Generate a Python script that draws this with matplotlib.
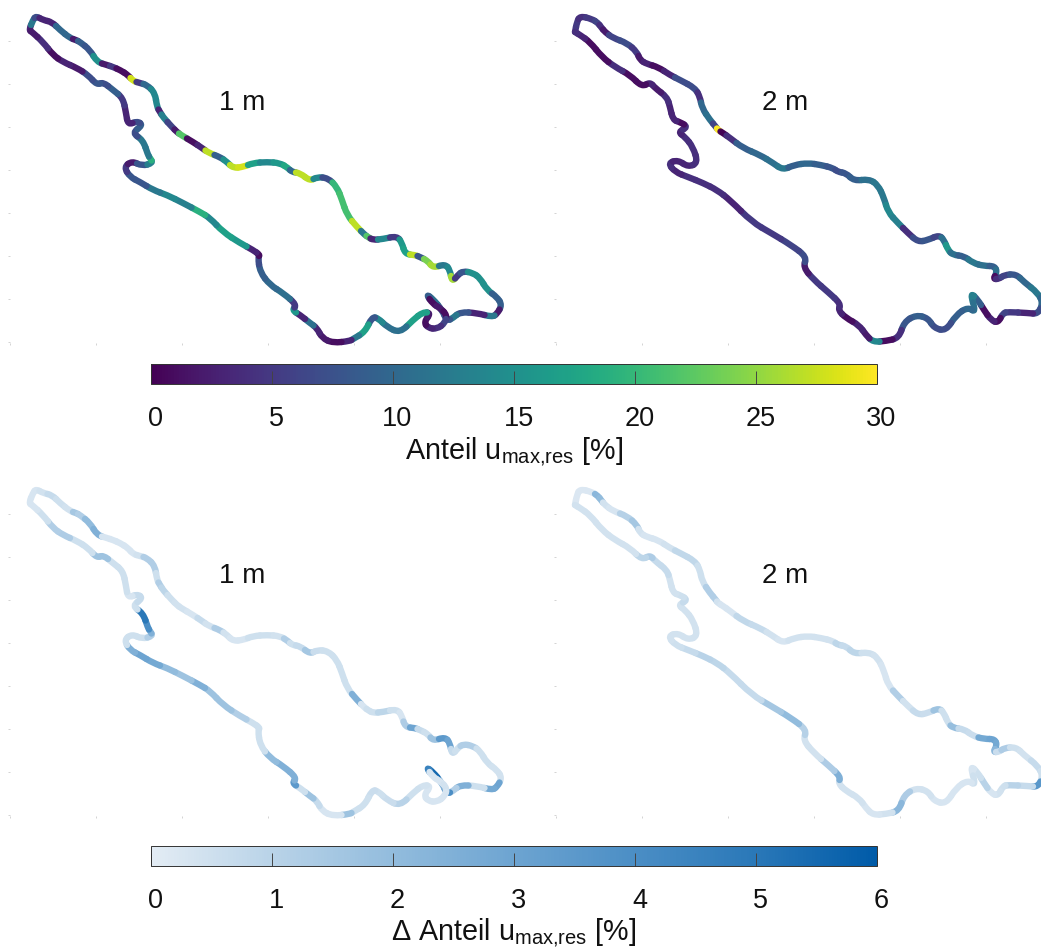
import numpy as np
import matplotlib
matplotlib.use('Agg')
import matplotlib.pyplot as plt
from matplotlib.collections import PathCollection
from matplotlib.colors import LinearSegmentedColormap, Normalize
from matplotlib.path import Path
from matplotlib.transforms import ScaledTranslation

plt.rcParams['font.family'] = ['Liberation Sans', 'DejaVu Sans']
plt.rcParams['mathtext.fontset'] = 'custom'
plt.rcParams['mathtext.rm'] = 'Liberation Sans'

# shoreline at 1 m depth, map units
shore1_x = [29, 33, 36, 43, 52, 60, 70, 76,
            80, 90, 97, 107, 113, 120, 128, 133,
            140, 147, 155, 157, 160, 163, 172, 177,
            181, 193, 202, 209, 220, 227, 233, 243,
            253, 267, 280, 288, 292, 300, 310, 317,
            328, 337, 342, 347, 357, 365, 368, 373,
            383, 397, 402, 405, 415, 420, 428, 433,
            445, 450, 452, 458, 463, 473, 480, 487,
            497, 502, 497, 492, 477, 460, 453, 447,
            442, 433, 426, 433, 440, 447, 445, 437,
            428, 424, 431, 423, 413, 400, 387, 378,
            372, 365, 353, 350, 333, 322, 317, 310,
            300, 292, 297, 283, 270, 260, 258, 260,
            253, 240, 223, 210, 200, 183, 167, 153,
            140, 130, 124, 132, 142, 153, 150, 148,
            143, 132, 143, 137, 128, 126, 123, 113,
            103, 97, 88, 77, 63, 53, 43, 32]
shore1_y = [30, 20, 16, 20, 22, 30, 38, 40,
            42, 50, 62, 65, 67, 70, 75, 81,
            83, 85, 93, 107, 112, 117, 127, 132,
            135, 142, 148, 153, 157, 162, 168, 167,
            163, 162, 163, 168, 172, 173, 181, 177,
            178, 187, 200, 215, 227, 235, 237, 240,
            239, 236, 243, 254, 255, 257, 261, 268,
            264, 270, 282, 275, 271, 273, 278, 290,
            297, 305, 314, 317, 313, 312, 318, 321,
            310, 299, 294, 304, 308, 315, 323, 329,
            328, 322, 313, 312, 320, 333, 327, 318,
            317, 332, 339, 341, 343, 338, 328, 323,
            315, 310, 305, 293, 285, 272, 257, 255,
            250, 243, 232, 218, 212, 203, 195, 190,
            182, 177, 167, 161, 166, 163, 158, 155,
            140, 133, 125, 121, 125, 113, 98, 90,
            82, 85, 75, 68, 62, 55, 42, 32]
anteil_1m = [3, 12, 7, 3, 3, 10, 10, 2,
             9, 8, 15, 2, 5, 1, 1, 28,
             5, 10, 14, 14, 3, 13, 6, 2,
             22, 1, 3, 27, 9, 15, 27, 28,
             17, 14, 16, 18, 10, 27, 27, 14,
             7, 20, 21, 21, 27, 12, 22, 3,
             14, 5, 16, 17, 27, 8, 24, 26,
             12, 14, 26, 5, 8, 15, 15, 15,
             9, 9, 2, 12, 3, 8, 12, 8,
             8, 11, 9, 1, 2, 1, 6, 4,
             3, 1, 2, 17, 17, 11, 11, 14,
             8, 17, 12, 3, 1, 2, 3, 11,
             3, 16, 5, 11, 10, 9, 7, 1,
             3, 16, 17, 14, 19, 13, 14, 12,
             8, 8, 5, 2, 8, 13, 19, 12,
             12, 7, 9, 7, 3, 3, 5, 9,
             7, 8, 7, 2, 3, 1, 4, 2]
delta_1m = [.3, .3, .3, .4, .7, .5, .4, 1.5,
            1.2, 2, 2.5, .3, .3, .3, .3, .3,
            .4, 1.2, 1.2, .5, 1.2, .9, .5, .4,
            .4, .3, .7, .4, 1.3, .4, .3, .3,
            .5, .5, .4, 1.2, .5, .7, 1.5, .6,
            .5, .5, .5, .5, 2.5, .3, .5, .5,
            .9, .5, .3, 1.3, 3, .7, .5, 1.7,
            3.5, 3, .7, .5, 1.2, 1.2, .5, .5,
            .4, .4, 3, 2.8, .5, 2.5, 1.2, 4,
            2.5, 5.5, 4.5, .3, .3, .4, .3, .3,
            .3, .3, .3, .4, .5, 1, .6, .5,
            .6, .5, .5, 1.7, .3, .3, .7, 1.7,
            .5, 3.5, 2.5, 2.5, 2, .5, .5, .5,
            .5, 1.2, 1.7, 1.7, 2.5, 1.7, 2, 2.8,
            3, 2.5, .5, .5, .5, 1.2, 2.5, 4,
            5, .5, .7, .7, .3, .5, .5, .5,
            1.7, 1.7, .5, .5, 1.3, 1.2, .5, .3]

# shoreline at 2 m depth
shore2_x = [575, 577, 580, 592, 598, 601, 605, 613,
            627, 637, 640, 647, 658, 670, 680, 695,
            700, 702, 710, 716, 718, 723, 730, 743,
            760, 773, 783, 794, 808, 821, 833, 838,
            846, 854, 869, 878, 884, 888, 898, 908,
            918, 928, 939, 944, 948, 953, 964, 973,
            984, 995, 997, 993, 999, 1004, 1016, 1024,
            1038, 1043, 1038, 1028, 1008, 1003, 998, 991,
            984, 978, 970, 976, 968, 956, 946, 934,
            928, 916, 904, 899, 886, 873, 866, 859,
            846, 838, 841, 828, 814, 803, 807, 791,
            771, 752, 730, 717, 703, 688, 675, 668,
            678, 688, 698, 693, 685, 678, 688, 680,
            673, 670, 667, 655, 650, 642, 630, 615,
            602, 590, 580, 575]
shore2_y = [32, 22, 16, 19, 23, 27, 32, 38,
            43, 52, 60, 64, 67, 75, 80, 88,
            97, 108, 120, 127, 130, 133, 138, 148,
            155, 163, 170, 165, 163, 165, 168, 172,
            173, 181, 179, 185, 198, 212, 223, 233,
            242, 240, 235, 240, 250, 255, 256, 263,
            266, 266, 273, 279, 279, 275, 274, 282,
            293, 303, 314, 313, 312, 313, 323, 320,
            310, 300, 292, 313, 307, 315, 331, 328,
            318, 315, 322, 338, 341, 342, 335, 325,
            318, 310, 304, 292, 280, 267, 257, 245,
            233, 222, 200, 190, 183, 177, 172, 163,
            160, 167, 163, 147, 137, 132, 127, 122,
            120, 107, 97, 88, 82, 87, 75, 67,
            57, 42, 35, 32]
anteil_2m = [4, 5, 4, 5, 6, 4, 2, 6,
             7, 5, 2, 3, 1, 3, 7, 7,
             4, 10, 11, 6, 30, 0, 4, 9,
             10, 11, 12, 9, 10, 9, 8, 7,
             8, 9, 11, 12, 12, 14, 13, 4,
             7, 8, 6, 11, 16, 11, 9, 12,
             11, 9, 11, 1, 4, 6, 8, 10,
             12, 10, 7, 3, 5, 6, 1, 3,
             1, 9, 13, 11, 10, 9, 7, 7,
             8, 9, 8, 4, 1, 14, 2, 3,
             1, 3, 4, 5, 5, 2, 7, 6,
             5, 5, 3, 4, 4, 4, 3, 4,
             3, 3, 4, 4, 4, 3, 4, 1,
             3, 3, 4, 2, 3, 1, 1, 4,
             1, 1, 3, 4]
delta_2m = [.3, .2, .2, .2, 2.2, 2, .4, .3,
            1.1, 1.5, .4, .3, .3, .4, .8, .8,
            .5, .5, 1.2, 1.2, .4, .3, .3, .8,
            .7, .4, .3, .4, .4, .4, .4, .9,
            .7, .9, .5, .4, .3, .3, 1.2, .4,
            .7, .6, 1.7, .5, .5, 1.9, .7, .6,
            2.8, 3, 2.8, 2.2, .6, 1.3, .5, .4,
            .7, .5, 3.6, .7, 1, .5, .4, .3,
            1, .5, .3, .5, .3, .3, .3, .3,
            .4, .4, 1.3, 2.2, .4, .3, .3, .4,
            .4, .4, 2.5, 1.3, .4, .4, 1.1, 2,
            1.5, .7, .7, .9, 1, .7, .5, .4,
            .4, .4, .4, .4, .4, .4, .7, .5,
            .4, .4, .7, .7, 1.3, .9, .4, .4,
            .4, .4, .4, .4]

anteil_ticks = [0, 5, 10, 15, 20, 25, 30]
delta_ticks = [0, 1, 2, 3, 4, 5, 6]
anteil_label = r'Anteil u$_{\mathrm{max{,}res}}$ [%]'
delta_label = '\u0394 ' + anteil_label

W, H = 1041, 948
FS = 19.5
blues = LinearSegmentedColormap.from_list(
    'blues_soft', ['#e3ecf4', '#b9d3e8', '#92bcdd', '#6da4d1', '#4b8ec5', '#2a78b8', '#005ba8'])

fig = plt.figure(figsize=(W / 100, H / 100), dpi=100)


def px_axes(left, top, right, bottom):
    return fig.add_axes([left / W, 1 - bottom / H, (right - left) / W, (bottom - top) / H])


def shore_paths(xs, ys):
    # one rounded piece per vertex, from the middle of one edge to the middle of the next
    pts = np.column_stack([xs, ys], ).astype(float)
    mid_prev = (pts + np.roll(pts, 1, axis=0)) / 2
    mid_next = (pts + np.roll(pts, -1, axis=0)) / 2
    codes = [Path.MOVETO, Path.CURVE3, Path.CURVE3]
    return [Path([a, b, c], codes) for a, b, c in zip(mid_prev, pts, mid_next)]


def draw_panel(x0, x1, dy, xs, ys, vals, cmap, norm, name):
    ax = px_axes(x0, dy, x1, 343 + dy)
    ax.set_xlim(x0, x1)
    ax.set_ylim(343, 0)
    pc = PathCollection(shore_paths(xs, ys), facecolors='none', cmap=cmap, norm=norm,
                        linewidths=4.6, capstyle='round', clip_on=False)
    pc.set_array(np.array(vals, dtype=float))
    ax.add_collection(pc)
    ax.text(242 if x0 < 500 else 785, 103, name, ha='center', va='center', fontsize=FS + 0.5, color='#111111')
    ax.set_xticks([t + x0 - 10 for t in [10, 96, 182, 268, 354, 440]])
    ax.set_yticks([41, 84, 127, 170, 213, 256, 299, 342])
    ax.tick_params(length=1.2, width=0.6, color='#cccccc', labelbottom=False, labelleft=False)
    for s in ax.spines.values():
        s.set_visible(False)
    ax.patch.set_alpha(0)
    return pc


def draw_bar(top, mappable, ticks, label):
    cax = px_axes(151, top, 877, top + 19.5)
    cb = fig.colorbar(mappable, cax=cax, orientation='horizontal', ticks=ticks)
    cb.outline.set_linewidth(0.7)
    cb.outline.set_edgecolor('#333333')
    cax.tick_params(direction='in', length=9.5, width=0.7, color='#444444', pad=16, labelsize=FS, labelcolor='#111111')
    shift = ScaledTranslation(4.5 / 100, 0, fig.dpi_scale_trans)
    for lb in cax.get_xticklabels():
        lb.set_transform(lb.get_transform() + shift)
    cb.set_label(label, fontsize=FS + 1.2, color='#111111', labelpad=2)
    return cb


norm_a = Normalize(0, 30)
norm_d = Normalize(0, 6)

pc_a = draw_panel(10, 520, 0, shore1_x, shore1_y, anteil_1m, 'viridis', norm_a, '1 m')
draw_panel(556, 1041, 0, shore2_x, shore2_y, anteil_2m, 'viridis', norm_a, '2 m')
pc_d = draw_panel(10, 520, 473, shore1_x, shore1_y, delta_1m, blues, norm_d, '1 m')
draw_panel(556, 1041, 473, shore2_x, shore2_y, delta_2m, blues, norm_d, '2 m')

draw_bar(364.5, pc_a, anteil_ticks, anteil_label)
draw_bar(846, pc_d, delta_ticks, delta_label)

fig.savefig('out.png', dpi=100)
